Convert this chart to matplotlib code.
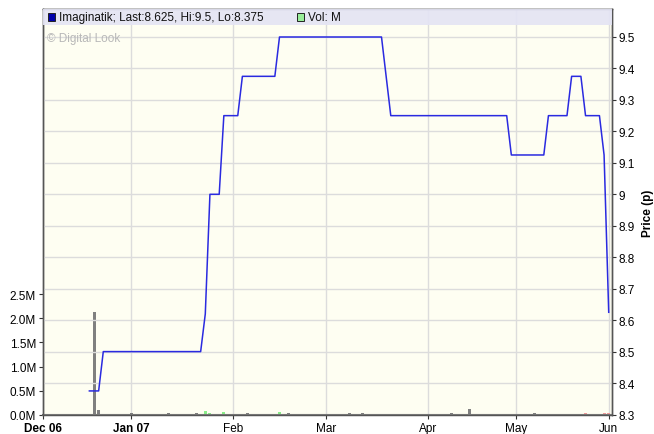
import matplotlib
matplotlib.use("Agg")
import matplotlib.pyplot as plt
from matplotlib.patches import Rectangle

# x axis is a trading-day index, 0 = start of Dec 06
MONTH_POS = [0, 19, 41, 61, 83, 102, 122]
MONTH_LABELS = ["Dec 06", "Jan 07", "Feb", "Mar", "Apr", "May", "Jun"]
MONTH_BOLD = [True, True, False, False, False, False, False]

# price points (pence)
PRICE_DAY = [10, 12, 13, 34, 35, 36, 38, 39, 42, 43, 50, 51, 73, 75,
             100, 101, 108, 109, 113, 114, 116, 117, 120, 121, 122]
PRICE = [8.375, 8.375, 8.5, 8.5, 8.62, 9.0, 9.0, 9.25, 9.25, 9.375, 9.375, 9.5, 9.5, 9.25,
         9.25, 9.125, 9.125, 9.25, 9.25, 9.375, 9.375, 9.25, 9.25, 9.125, 8.625]

# volume (millions); colour code: g = unchanged, u = up, d = down
VOL_DAY = [11, 12, 19, 27, 33, 35, 36, 39, 44, 51, 53, 57, 58,
           66, 69, 73, 74, 83, 88, 90, 91, 92, 101, 106, 108, 110, 111, 117, 120, 121, 122]
VOL = [2.13, 0.11, 0.05, 0.04, 0.05, 0.09, 0.04, 0.07, 0.05, 0.07, 0.05, 0.03, 0.03,
       0.05, 0.05, 0.03, 0.03, 0.03, 0.05, 0.03, 0.03, 0.12, 0.03, 0.05, 0.03, 0.03, 0.03,
       0.05, 0.03, 0.05, 0.04]
VOL_DIR = ["g", "g", "g", "g", "g", "u", "u", "u", "g", "u", "g", "g", "g",
           "g", "g", "g", "d", "g", "g", "g", "g", "g", "d", "g", "g", "g", "g",
           "d", "g", "d", "d"]
DIR_COLOR = {"g": "#808080", "u": "#88ee88", "d": "#f49a9a"}

plt.rcParams["font.family"] = ["Liberation Sans", "DejaVu Sans"]

fig = plt.figure(figsize=(6.54, 4.35), dpi=100)
ax = fig.add_axes([43 / 654, 19 / 435, 568.5 / 654, 406 / 435])
ax2 = ax.twinx()

ax.set_facecolor("#fefef2")
ax.set_xlim(0, 122.6)
ax.set_ylim(0, 8.39)

# volume bars
ax.bar(VOL_DAY, VOL, width=0.65, color=[DIR_COLOR[d] for d in VOL_DIR], zorder=2)

ax.set_yticks([0, 0.5, 1.0, 1.5, 2.0, 2.5])
ax.set_yticklabels(["0.0M", "0.5M", "1.0M", "1.5M", "2.0M", "2.5M"])
ax.set_xticks(MONTH_POS)
ax.set_xticklabels(MONTH_LABELS)
for lbl, b in zip(ax.get_xticklabels(), MONTH_BOLD):
    if b:
        lbl.set_fontweight("bold")
ax.tick_params(axis="both", labelsize=8.5, length=3, width=0.8, color="#333333", pad=2)
ax.xaxis.grid(True, color="#dcdcdc", linewidth=1)
ax.set_axisbelow(True)

# price line
ax2.plot(PRICE_DAY, PRICE, color="#2a2ae0", linewidth=1.1, zorder=3)
ax2.set_ylim(8.2985, 9.589)
ax2.set_yticks([8.3, 8.4, 8.5, 8.6, 8.7, 8.8, 8.9, 9.0, 9.1, 9.2, 9.3, 9.4, 9.5])
ax2.set_yticklabels(["8.3", "8.4", "8.5", "8.6", "8.7", "8.8", "8.9", "9", "9.1",
                     "9.2", "9.3", "9.4", "9.5"])
ax2.tick_params(axis="y", labelsize=8.5, length=3, width=0.8, color="#333333", pad=2)
ax2.yaxis.grid(True, color="#dcdcdc", linewidth=1, zorder=0)
ax2.set_axisbelow(True)
ax2.set_ylabel("Price (p)", fontsize=8.5, fontweight="bold", labelpad=5)

for a in (ax, ax2):
    for s in a.spines.values():
        s.set_color("#555555")
        s.set_linewidth(1)
ax.spines["bottom"].set_color("#666666")
ax.spines["bottom"].set_linewidth(1.5)

# legend band at top of plot
band_h = 16 / 406
ax2.add_patch(Rectangle((0, 1 - band_h), 1, band_h, transform=ax2.transAxes,
                        facecolor="#e4e4f4", edgecolor="none", zorder=4, alpha=0.92))
ax2.add_patch(Rectangle((4.5 / 568.5, 1 - 12 / 406), 7 / 568.5, 8 / 406, transform=ax2.transAxes,
                        facecolor="#0000aa", edgecolor="#222222", linewidth=0.7, zorder=5))
ax2.text(16 / 568.5, 1 - 8 / 406, "Imaginatik; Last:8.625, Hi:9.5, Lo:8.375",
         transform=ax2.transAxes, fontsize=8.5, va="center", ha="left", zorder=6, color="#111111")
ax2.add_patch(Rectangle((254 / 568.5, 1 - 12 / 406), 7 / 568.5, 8 / 406, transform=ax2.transAxes,
                        facecolor="#99ee99", edgecolor="#222222", linewidth=0.7, zorder=5))
ax2.text(265 / 568.5, 1 - 8 / 406, "Vol: M",
         transform=ax2.transAxes, fontsize=8.5, va="center", ha="left", zorder=6, color="#111111")
ax2.text(4 / 568.5, 1 - 29 / 406, "\u00a9 Digital Look", transform=ax2.transAxes,
         fontsize=8.5, va="center", ha="left", color="#b8b8b8", zorder=6)

fig.savefig("out.png", dpi=100)
